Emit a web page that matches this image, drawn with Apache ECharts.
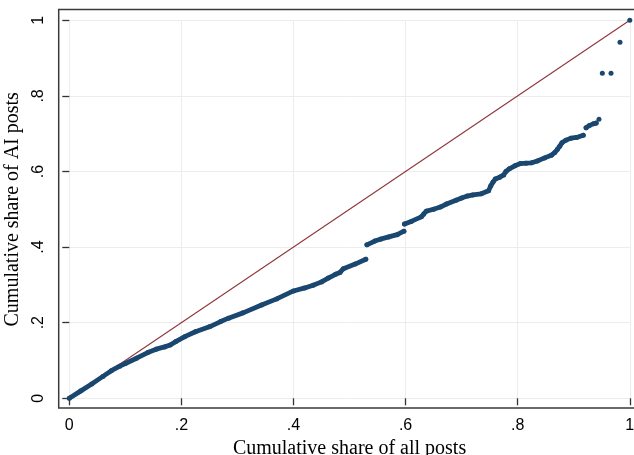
<!DOCTYPE html>
<html>
<head>
<meta charset="utf-8">
<script src="https://cdn.jsdelivr.net/npm/echarts@6/dist/echarts.min.js"></script>
<style>
html,body{margin:0;padding:0;background:#fff;}
#chart{width:634px;height:455px;}
</style>
</head>
<body>
<div id="chart"></div>
<script>
// Cumulative share of all posts (x) vs cumulative share of AI posts (y); null = gap
const shareAll = [0, 0.02, 0.04, 0.06, 0.075, 0.09, 0.10, 0.12, 0.14, 0.155, 0.17, 0.18, 0.19, 0.206, 0.225, 0.25, 0.27, 0.284, 0.31, 0.343, 0.37, 0.40, 0.42, 0.435, 0.45, 0.462, 0.475, 0.483, 0.489, 0.51, 0.529, null,
  0.531, 0.545, 0.555, 0.57, 0.585, 0.597, null,
  0.598, 0.61, 0.628, 0.632, 0.637, 0.65, 0.662, 0.673, 0.69, 0.70, 0.71, 0.72, 0.735, 0.748, 0.752, 0.756, 0.76, 0.768, 0.775, 0.779, 0.785, 0.795, 0.805, 0.815, 0.825, 0.835, 0.848, 0.86, 0.866, 0.871, 0.875, 0.879, 0.886, 0.895, 0.905, 0.917, null,
  0.922, 0.928, 0.935, 0.940, null,
  0.945, null, 0.951, null, 0.9665, null, 0.9825, null, 1.0];
const shareAI = [0, 0.019, 0.038, 0.058, 0.073, 0.085, 0.092, 0.106, 0.121, 0.130, 0.136, 0.141, 0.150, 0.163, 0.176, 0.189, 0.203, 0.212, 0.226, 0.247, 0.263, 0.284, 0.292, 0.299, 0.308, 0.318, 0.328, 0.333, 0.343, 0.355, 0.368, null,
  0.406, 0.416, 0.421, 0.427, 0.433, 0.442, null,
  0.461, 0.468, 0.480, 0.487, 0.495, 0.500, 0.506, 0.514, 0.524, 0.530, 0.535, 0.538, 0.541, 0.549, 0.562, 0.572, 0.580, 0.585, 0.591, 0.600, 0.607, 0.615, 0.621, 0.622, 0.623, 0.628, 0.636, 0.643, 0.650, 0.659, 0.667, 0.676, 0.683, 0.688, 0.690, 0.696, null,
  0.716, 0.722, 0.726, 0.728, null,
  0.738, null, 0.860, null, 0.860, null, 0.942, null, 1.0];
// 45-degree reference line
const diagX = [0, 1];
const diagY = [0, 1];
const tickLabels = {0: '0', 0.2: '.2', 0.4: '.4', 0.6: '.6', 0.8: '.8', 1: '1'};

const curve = shareAll.map((x, i) => (x === null || shareAI[i] === null) ? ['-', '-'] : [x, shareAI[i]]);
const diag = diagX.map((x, i) => [x, diagY[i]]);

function fmt(v) {
  const k = Math.round(v * 10) / 10;
  return tickLabels[k] !== undefined ? tickLabels[k] : String(v);
}

const chart = echarts.init(document.getElementById('chart'), null, {renderer: 'canvas'});
chart.setOption({
  animation: false,
  backgroundColor: '#ffffff',
  grid: {left: 69.3, right: 4.2, top: 20.3, bottom: 56.7, containLabel: false, outerBoundsMode: 'none'},
  xAxis: {
    type: 'value', min: 0, max: 1, interval: 0.2,
    offset: 9.7,
    axisLine: {show: false},
    axisTick: {show: true, length: 7, lineStyle: {color: '#333', width: 1.3}},
    axisLabel: {formatter: fmt, color: '#000', fontFamily: 'Liberation Sans, Arial, sans-serif', fontSize: 16, margin: 10},
    splitLine: {show: true, lineStyle: {color: '#ececec', width: 1}},
    name: 'Cumulative share of all posts',
    nameLocation: 'middle', nameGap: 26,
    nameTextStyle: {fontFamily: 'Liberation Serif, Times New Roman, serif', fontSize: 20, color: '#000'}
  },
  yAxis: {
    type: 'value', min: 0, max: 1, interval: 0.2,
    offset: 10.6,
    axisLine: {show: false},
    axisTick: {show: true, length: 7, lineStyle: {color: '#333', width: 1.3}},
    axisLabel: {formatter: fmt, color: '#000', fontFamily: 'Liberation Sans, Arial, sans-serif', fontSize: 16, margin: 12, rotate: 90, align: 'center', verticalAlign: 'bottom'},
    splitLine: {show: true, lineStyle: {color: '#ececec', width: 1}},
    name: 'Cumulative share of AI posts',
    nameLocation: 'middle', nameGap: 29,
    nameTextStyle: {fontFamily: 'Liberation Serif, Times New Roman, serif', fontSize: 20, color: '#000'}
  },
  graphic: [{
    type: 'rect', silent: true, z: 100,
    shape: {x: 58.7, y: 9.5, width: 600, height: 398.5},
    style: {fill: null, stroke: '#3a3a3a', lineWidth: 1.5}
  }],
  series: [
    {
      type: 'line', data: diag, symbol: 'none', z: 2,
      lineStyle: {color: '#90353b', width: 1.1}
    },
    {
      type: 'line', data: curve, z: 3,
      connectNulls: false,
      symbol: 'circle', symbolSize: 5, showSymbol: true, showAllSymbol: true,
      itemStyle: {color: '#1a476f'},
      lineStyle: {color: '#1a476f', width: 4.8, cap: 'round', join: 'round'}
    }
  ]
});
</script>
</body>
</html>
